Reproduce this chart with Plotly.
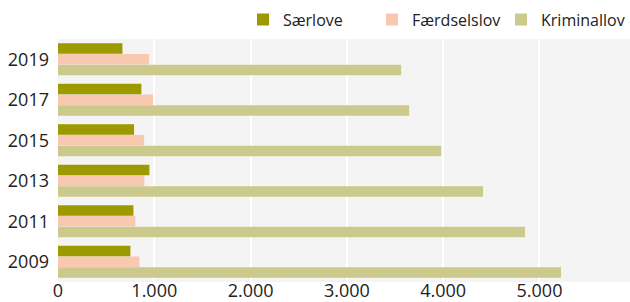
import plotly.graph_objects as go

years = ["2009", "2011", "2013", "2015", "2017", "2019"]
saerlove = [752, 783, 949, 790, 866, 669]
faerdselslov = [845, 804, 897, 894, 987, 946]
kriminallov = [5223, 4850, 4414, 3978, 3646, 3563]
x_ticks = [0, 1000, 2000, 3000, 4000, 5000]

fig = go.Figure()
fig.add_trace(go.Bar(y=years, x=kriminallov, name="Kriminallov", orientation="h",
                     marker=dict(color="#ccc98d", line=dict(width=0))))
fig.add_trace(go.Bar(y=years, x=faerdselslov, name="Færdselslov", orientation="h",
                     marker=dict(color="#f9c8b1", line=dict(width=0))))
fig.add_trace(go.Bar(y=years, x=saerlove, name="Særlove", orientation="h",
                     marker=dict(color="#9c9a00", line=dict(width=0))))

fig.update_layout(
    width=630, height=302,
    margin=dict(l=58, r=0, t=39, b=20, autoexpand=False),
    barmode="group", bargap=0.2, bargroupgap=0.04,
    separators=",.",
    paper_bgcolor="white", plot_bgcolor="#f4f4f4",
    font=dict(family="Open Sans", size=18, color="#222222"),
    legend=dict(orientation="h", traceorder="reversed",
                xref="container", x=1.0, xanchor="right",
                yref="container", y=0.935, yanchor="middle",
                font=dict(size=16, color="#222222"),
                entrywidth=84, itemwidth=30,
                bgcolor="rgba(0,0,0,0)"),
    xaxis=dict(range=[0, 5940], tickvals=x_ticks, tickformat=",d",
               showgrid=True, gridcolor="white", gridwidth=2, zeroline=False,
               showline=False, ticks="", automargin=False, ticklabelstandoff=-4),
    yaxis=dict(type="category", categoryorder="array", categoryarray=years,
               showgrid=False, zeroline=False, showline=False, ticks="",
               ticklabelstandoff=8, automargin=False),
)
fig.write_html(
    "out.html",
    config={"displayModeBar": False},
    post_script="document.body.style.margin='0';document.documentElement.style.overflow='hidden';document.body.style.overflow='hidden';",
)
